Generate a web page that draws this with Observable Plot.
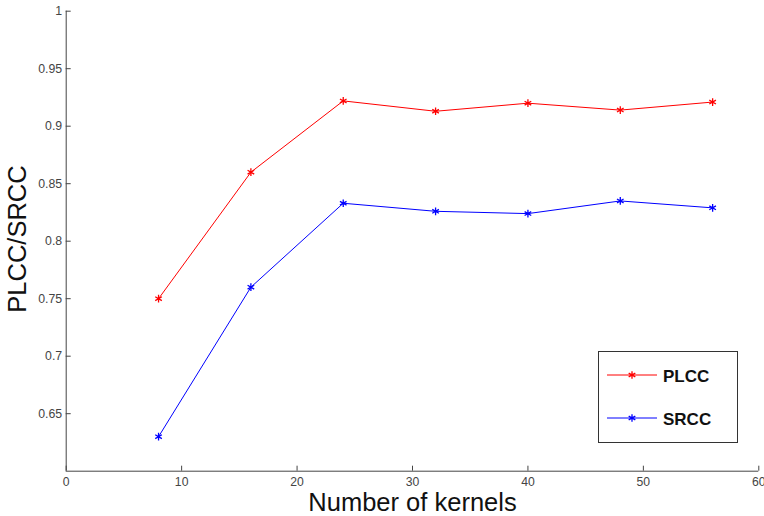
<!DOCTYPE html>
<html>
<head>
<meta charset="utf-8">
<script src="https://cdn.jsdelivr.net/npm/d3@7"></script>
<script src="https://cdn.jsdelivr.net/npm/@observablehq/plot@0.6"></script>
<style>
  html, body { margin: 0; padding: 0; background: #fff; }
  #chart { position: relative; width: 764px; height: 516px; }
</style>
</head>
<body>
<div id="chart"></div>
<script>
// ---- data ----
const kernels = [8, 16, 24, 32, 40, 48, 56];
const plcc = [0.750, 0.860, 0.922, 0.913, 0.920, 0.914, 0.921];
const srcc = [0.630, 0.760, 0.833, 0.826, 0.824, 0.835, 0.829];
const seriesNames = ["PLCC", "SRCC"];
const seriesColors = ["#ff0000", "#0000ff"];
const xTicks = [0, 10, 20, 30, 40, 50, 60];
const yTicks = [0.65, 0.7, 0.75, 0.8, 0.85, 0.9, 0.95, 1];
const xLabel = "Number of kernels";
const yLabel = "PLCC/SRCC";

const rows = [];
[plcc, srcc].forEach((vals, si) => {
  kernels.forEach((k, i) => rows.push({ k, v: vals[i], s: seriesNames[si] }));
});

const axisColor = "#444";
const font = "'Liberation Sans', Arial, sans-serif";

const svg = Plot.plot({
  width: 764,
  height: 516,
  marginLeft: 65.7,
  marginRight: 5.7,
  marginTop: 10.7,
  marginBottom: 45.3,
  style: { fontFamily: font, background: "white", overflow: "visible" },
  x: { domain: [0, 60] },
  y: { domain: [0.6, 1] },
  color: { domain: seriesNames, range: seriesColors },
  marks: [
    Plot.ruleX([0], { stroke: axisColor, strokeWidth: 1 }),
    Plot.ruleY([0.6], { stroke: axisColor, strokeWidth: 1 }),
    Plot.axisX({ ticks: xTicks, tickSize: -5, tickPadding: 11, fontSize: 12.2, label: null, color: axisColor, tickFormat: d => String(d) }),
    Plot.axisY({ ticks: yTicks, tickSize: -5, tickPadding: 9, fontSize: 12.3, label: null, color: axisColor, tickFormat: d => String(d) }),
    Plot.line(rows, { x: "k", y: "v", z: "s", stroke: "s", strokeWidth: 1 }),
    Plot.dot(rows, { x: "k", y: "v", stroke: "s", symbol: "asterisk", r: 3.6, strokeWidth: 1.3 }),
    Plot.text([xLabel], { frameAnchor: "bottom", dy: 39.5, lineAnchor: "bottom", textAnchor: "middle", fontSize: 25.5, fill: "#111" }),
    Plot.text([yLabel], { frameAnchor: "left", dx: -48.7, dy: -2.2, rotate: -90, lineAnchor: "middle", textAnchor: "middle", fontSize: 25.5, fill: "#111" })
  ]
});
document.getElementById("chart").appendChild(svg);

// ---- legend (inside the axes, drawn over the plot) ----
const sel = d3.select(svg);
const lg = sel.append("g").attr("class", "legend").attr("font-family", font).attr("text-anchor", "start");
lg.append("rect")
  .attr("x", 598.5).attr("y", 351.5).attr("width", 139).attr("height", 91)
  .attr("fill", "white").attr("stroke", "#333").attr("stroke-width", 1);
const legY = [375, 418];
seriesNames.forEach((name, i) => {
  const y = legY[i];
  lg.append("line").attr("x1", 607).attr("x2", 657).attr("y1", y).attr("y2", y)
    .attr("stroke", seriesColors[i]).attr("stroke-width", 1);
  lg.append("path")
    .attr("d", d3.symbol(d3.symbolAsterisk, 3.6 * 3.6 * Math.PI)())
    .attr("transform", `translate(632,${y})`)
    .attr("fill", "none").attr("stroke", seriesColors[i]).attr("stroke-width", 1.3);
  lg.append("text").attr("x", 663).attr("y", y + 7)
    .attr("text-anchor", "start")
    .attr("font-size", 17).attr("font-weight", "bold").attr("fill", "#111")
    .text(name);
});
</script>
</body>
</html>
